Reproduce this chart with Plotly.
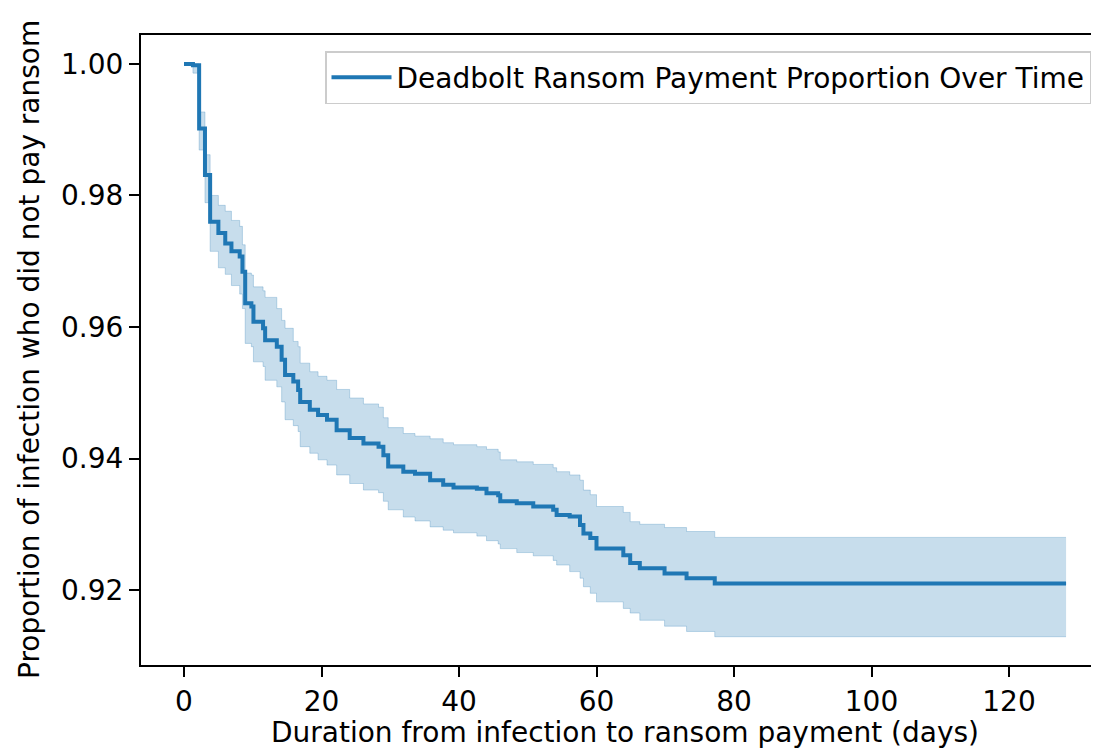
import plotly.graph_objects as go

# Kaplan-Meier style estimate
days = [0.0, 1.3, 2.2, 3.05, 3.8, 5.0, 6.0, 6.9, 8.1, 8.5, 8.9, 9.8, 10.1, 11.5, 11.8,
        13.5, 14.2, 14.7, 15.9, 16.6, 16.9, 18.3, 19.5, 20.8, 22.2, 24.1, 26.1, 28.3,
        29.0, 29.7, 31.9, 33.6, 35.8, 37.7, 39.2, 42.6, 44.0, 45.7, 46.0, 48.4, 50.8,
        53.7, 54.2, 56.1, 57.6, 58.1, 59.1, 60.0, 63.9, 64.9, 66.3, 69.9, 73.1, 77.2, 128.3]

survival = [1.0000, 0.9998, 0.9902, 0.9831, 0.9760, 0.9743, 0.9727, 0.9715, 0.9707, 0.9684,
            0.9636, 0.9631, 0.9608, 0.9598, 0.9580, 0.9570, 0.9550, 0.9527, 0.9517, 0.9504,
            0.9486, 0.9474, 0.9466, 0.9459, 0.9443, 0.9431, 0.9423, 0.9418, 0.9405, 0.9388,
            0.9380, 0.9377, 0.9367, 0.9360, 0.9356, 0.9354, 0.9347, 0.9344, 0.9335, 0.9332,
            0.9327, 0.9322, 0.9314, 0.9312, 0.9299, 0.9286, 0.9279, 0.9263, 0.9253, 0.9241,
            0.9233, 0.9225, 0.9218, 0.9210, 0.9210]

upper_ci = [1.0000, 1.0000, 0.9927, 0.9862, 0.9800, 0.9785, 0.9776, 0.9762, 0.9753, 0.9725,
            0.9682, 0.9679, 0.9661, 0.9655, 0.9645, 0.9628, 0.9610, 0.9598, 0.9578, 0.9570,
            0.9545, 0.9532, 0.9525, 0.9519, 0.9505, 0.9492, 0.9483, 0.9478, 0.9462, 0.9447,
            0.9438, 0.9434, 0.9430, 0.9424, 0.9421, 0.9418, 0.9414, 0.9410, 0.9398, 0.9395,
            0.9391, 0.9386, 0.9380, 0.9375, 0.9367, 0.9352, 0.9345, 0.9327, 0.9318, 0.9304,
            0.9300, 0.9295, 0.9289, 0.9280, 0.9280]

lower_ci = [1.0000, 0.9986, 0.9869, 0.9789, 0.9715, 0.9690, 0.9680, 0.9663, 0.9650, 0.9628,
            0.9575, 0.9570, 0.9547, 0.9540, 0.9519, 0.9509, 0.9486, 0.9459, 0.9450, 0.9441,
            0.9418, 0.9408, 0.9398, 0.9390, 0.9375, 0.9362, 0.9352, 0.9348, 0.9335, 0.9322,
            0.9311, 0.9305, 0.9296, 0.9291, 0.9287, 0.9282, 0.9275, 0.9270, 0.9263, 0.9257,
            0.9252, 0.9245, 0.9238, 0.9228, 0.9218, 0.9205, 0.9195, 0.9182, 0.9172, 0.9165,
            0.9154, 0.9145, 0.9137, 0.9129, 0.9129]

x_ticks = [0, 20, 40, 60, 80, 100, 120]
y_ticks = [0.92, 0.94, 0.96, 0.98, 1.00]

series_name = "Deadbolt Ransom Payment Proportion Over Time"
x_title = "Duration from infection to ransom payment (days)"
y_title = "Proportion of infection who did not pay ransom"

BLUE = "#1f77b4"
BAND = "rgba(31,119,180,0.25)"
FONT = "DejaVu Sans"
FS = 28

fig = go.Figure()
fig.add_trace(go.Scatter(x=days, y=upper_ci, mode="lines", line=dict(shape="hv", width=1, color=BAND),
                         showlegend=False, hoverinfo="skip"))
fig.add_trace(go.Scatter(x=days, y=lower_ci, mode="lines", line=dict(shape="hv", width=1, color=BAND),
                         fill="tonexty", fillcolor=BAND, showlegend=False, hoverinfo="skip"))
fig.add_trace(go.Scatter(x=days, y=survival, mode="lines", name=series_name,
                         line=dict(shape="hv", width=4, color=BLUE)))

# the page body has an 8px default margin, so the figure is laid out 8px smaller
OFF = 8
W, H = 1099 - OFF, 752 - OFF
L, R, T, B = 141 - OFF, 0, 35 - OFF, 87
PW, PH = W - L - R, H - T - B
px_per_day = 6.875
zero_px = 184 - OFF
xmin = -(zero_px - L) / px_per_day
xmax = xmin + PW / px_per_day

fig.update_layout(
    width=W, height=H,
    margin=dict(l=L, r=R, t=T, b=B, pad=0),
    paper_bgcolor="white", plot_bgcolor="white",
    font=dict(family=FONT, size=FS, color="black"),
    showlegend=True,
    legend=dict(x=(1091 - OFF - L) / PW, y=1 - (51 - OFF - T) / PH,
                xanchor="right", yanchor="top", itemwidth=60,
                bgcolor="white", bordercolor="#cccccc", borderwidth=1.5,
                font=dict(family=FONT, size=FS, color="black")),
    xaxis=dict(range=[xmin, xmax], tickvals=x_ticks, ticks="outside", ticklen=10, tickwidth=2,
               tickcolor="black", showline=True, linecolor="black", linewidth=2, mirror=True,
               showgrid=False, zeroline=False, tickfont=dict(family=FONT, size=FS, color="black")),
    yaxis=dict(range=[0.9086, 1.0044], tickvals=y_ticks, tickformat=".2f", ticks="outside",
               ticklen=10, tickwidth=2, tickcolor="black", showline=True, linecolor="black",
               linewidth=2, mirror=False, showgrid=False, zeroline=False,
               tickfont=dict(family=FONT, size=FS, color="black")),
    annotations=[
        dict(text=x_title, xref="x", x=(-6.4 + 134.7) / 2, yref="paper", y=-(732 - 665) / PH,
             xanchor="center", yanchor="middle", showarrow=False,
             font=dict(family=FONT, size=FS, color="black")),
        dict(text=y_title, xref="paper", x=(29 - OFF - L) / PW, yref="paper", y=0.5,
             xanchor="center", yanchor="middle", textangle=-90, showarrow=False,
             font=dict(family=FONT, size=FS, color="black")),
    ],
)

fig.write_html("out.html")
